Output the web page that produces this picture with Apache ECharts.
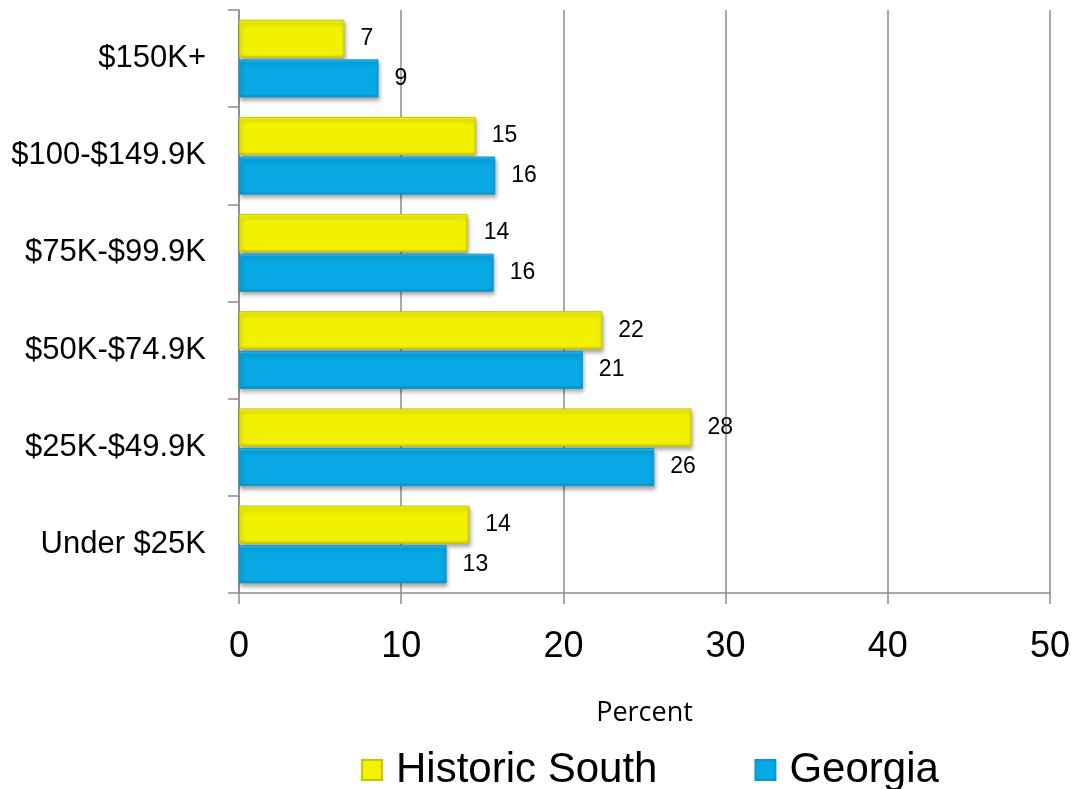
<!DOCTYPE html>
<html>
<head>
<meta charset="utf-8">
<script src="https://cdn.jsdelivr.net/npm/echarts@6/dist/echarts.min.js"></script>
<style>
html,body{margin:0;padding:0;background:#fff;}
#chart{width:1076px;height:789px;}
</style>
</head>
<body>
<div id="chart"></div>
<script>
// Categories from bottom to top
var categories = ['Under $25K', '$25K-$49.9K', '$50K-$74.9K', '$75K-$99.9K', '$100-$149.9K', '$150K+'];
var historicSouth = [14.2, 27.9, 22.4, 14.1, 14.6, 6.5];
var georgia = [12.8, 25.6, 21.2, 15.7, 15.8, 8.6];
var xTicks = [0, 10, 20, 30, 40, 50];

var chart = echarts.init(document.getElementById('chart'));

function barStyle(light, main, dark, edge) {
  return {
    color: new echarts.graphic.LinearGradient(0, 0, 0, 1, [
      {offset: 0, color: light},
      {offset: 0.08, color: main},
      {offset: 0.9, color: main},
      {offset: 1, color: dark}
    ]),
    borderColor: edge,
    borderWidth: 1,
    shadowColor: 'rgba(0,0,0,0.35)',
    shadowBlur: 4,
    shadowOffsetX: 1,
    shadowOffsetY: 3
  };
}

var labelCfg = {
  show: true,
  position: 'right',
  distance: 16,
  fontFamily: '"Liberation Sans", Arial, sans-serif',
  fontSize: 23,
  color: '#000',
  formatter: function (p) { return Math.round(p.value); }
};

chart.setOption({
  backgroundColor: '#fff',
  animation: false,
  grid: {left: 239, right: 26, top: 10, bottom: 196, containLabel: false, outerBoundsMode: 'none'},
  legend: {
    data: ['Historic South', 'Georgia'],
    left: 356,
    top: 744,
    itemWidth: 20,
    itemHeight: 20,
    itemGap: 97,
    icon: 'rect',
    textStyle: {fontFamily: '"Liberation Sans", Arial, sans-serif', fontSize: 42, color: '#000', padding: [0, 0, 0, 9]}
  },
  xAxis: {
    type: 'value',
    min: xTicks[0],
    max: xTicks[xTicks.length - 1],
    interval: 10,
    name: 'Percent',
    nameLocation: 'middle',
    nameGap: 107,
    nameTextStyle: {fontFamily: '"Open Sans", sans-serif', fontSize: 27, color: '#000'},
    axisLine: {show: true, lineStyle: {color: '#8c8c8c', width: 1.5}},
    axisTick: {show: true, length: 11, lineStyle: {color: '#8c8c8c', width: 1.5}},
    axisLabel: {fontFamily: '"Liberation Sans", Arial, sans-serif', fontSize: 36, color: '#000', margin: 36},
    splitLine: {show: true, lineStyle: {color: '#8c8c8c', width: 1.5}}
  },
  yAxis: {
    type: 'category',
    data: categories,
    axisLine: {show: true, lineStyle: {color: '#8c8c8c', width: 1.5}},
    axisTick: {show: true, length: 11, lineStyle: {color: '#8c8c8c', width: 1.5}},
    axisLabel: {fontFamily: '"Liberation Sans", Arial, sans-serif', fontSize: 31, color: '#000', margin: 33},
    splitLine: {show: false}
  },
  series: [
    {
      name: 'Historic South',
      type: 'bar',
      data: historicSouth,
      barCategoryGap: '20%',
      barGap: '4%',
      itemStyle: barStyle('#f8f840', '#f2f200', '#d0d000', '#c8c800'),
      label: labelCfg
    },
    {
      name: 'Georgia',
      type: 'bar',
      data: georgia,
      barCategoryGap: '20%',
      barGap: '4%',
      itemStyle: barStyle('#3cc8f8', '#08a8e4', '#0890c4', '#0a98d0'),
      label: labelCfg
    }
  ]
});
</script>
</body>
</html>
